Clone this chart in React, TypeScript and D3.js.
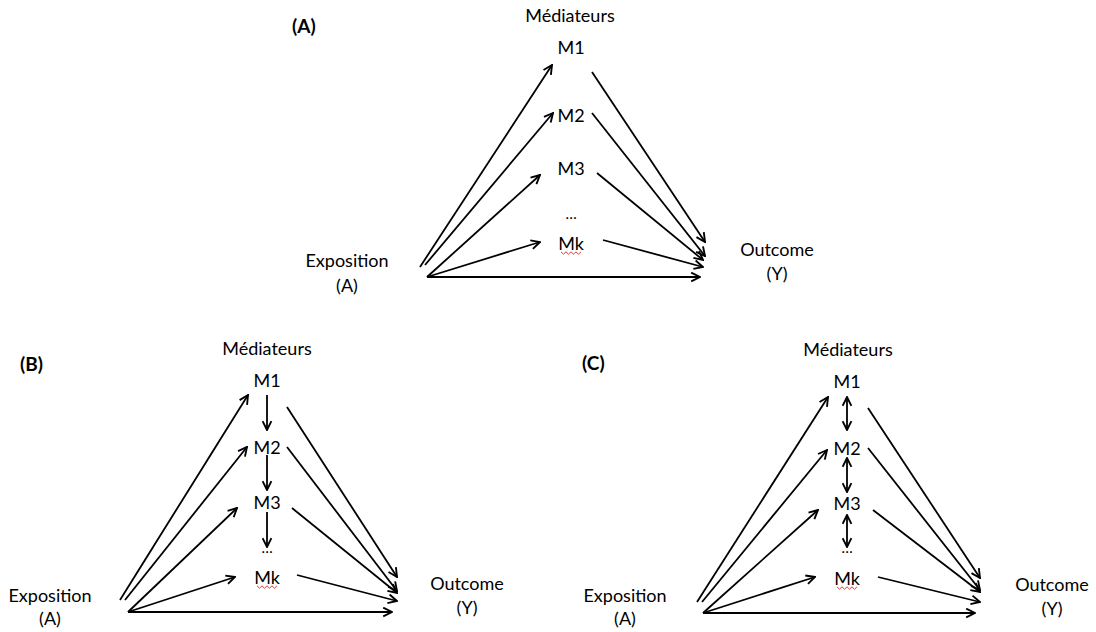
import React, { useEffect, useRef } from "react";
import * as d3 from "d3";

// labels
const mediators = ["M1", "M2", "M3", "…", "Mk"];
const panelNames = ["(A)", "(B)", "(C)"];
const titleText = "Médiateurs";
const exposureText = ["Exposition", "(A)"];
const outcomeText = ["Outcome", "(Y)"];
// kind of link between consecutive mediators, per panel
const chainKinds = ["none", "single", "double"];

// layout of each panel
const layouts = [
  {
    label: [292, 25],
    title: [570, 15],
    medX: 571,
    medY: [47, 115, 168, 215, 243],
    expo: [347, 260, 285],
    outc: [777, 249, 273],
    inEdges: [
      [420, 267, 552, 65],
      [425, 265, 553, 113],
      [427, 277, 540, 175],
      [427, 277, 540, 242],
    ],
    direct: [427, 277, 700, 277],
    outEdges: [
      [592, 72, 705, 242],
      [592, 113, 705, 256],
      [597, 173, 703, 260],
      [603, 240, 703, 267],
    ],
    chain: [],
  },
  {
    label: [20, 363],
    title: [267, 348],
    medX: 267,
    medY: [380, 447, 502, 549, 577],
    expo: [50, 595, 618],
    outc: [467, 583, 607],
    inEdges: [
      [120, 600, 248, 395],
      [125, 600, 247, 447],
      [128, 612, 237, 508],
      [128, 612, 235, 577],
    ],
    direct: [128, 612, 392, 612],
    outEdges: [
      [287, 407, 397, 577],
      [287, 447, 397, 591],
      [292, 508, 397, 593],
      [297, 575, 397, 601],
    ],
    chain: [
      [395, 430],
      [455, 490],
      [512, 547],
    ],
  },
  {
    label: [582, 362],
    title: [848, 349],
    medX: 847,
    medY: [381, 448, 503, 549, 578],
    expo: [625, 595, 618],
    outc: [1052, 584, 608],
    inEdges: [
      [697, 602, 828, 397],
      [702, 602, 827, 450],
      [703, 613, 818, 510],
      [703, 613, 815, 577],
    ],
    direct: [703, 613, 975, 613],
    outEdges: [
      [868, 408, 980, 578],
      [868, 448, 980, 590],
      [873, 510, 980, 592],
      [878, 577, 980, 602],
    ],
    chain: [
      [397, 430],
      [458, 492],
      [515, 547],
    ],
  },
];

const FONT = "Lato, 'Open Sans', sans-serif";
const STROKE = 1.8;

const App = () => {
  const svgRef = useRef<SVGSVGElement>(null);

  useEffect(() => {
    const width = 1096;
    const height = 632;
    const svg = d3.select(svgRef.current).attr("width", width).attr("height", height);
    svg.selectAll("*").remove();

    // open arrowhead marker
    const defs = svg.append("defs");
    ["end", "start"].forEach((kind) => {
      defs
        .append("marker")
        .attr("id", `arrow-${kind}`)
        .attr("viewBox", "0 0 10 10")
        .attr("refX", 9)
        .attr("refY", 5)
        .attr("markerWidth", 11)
        .attr("markerHeight", 11)
        .attr("markerUnits", "userSpaceOnUse")
        .attr("orient", kind === "end" ? "auto" : "auto-start-reverse")
        .append("path")
        .attr("d", "M1,1 L9,5 L1,9")
        .attr("fill", "none")
        .attr("stroke", "#000")
        .attr("stroke-width", 1.7)
        .attr("stroke-linejoin", "miter");
    });

    const line = d3.line();

    layouts.forEach((lay, pi) => {
      const g = svg.append("g");

      // panel tag
      g.append("text")
        .attr("x", lay.label[0])
        .attr("y", lay.label[1])
        .attr("dominant-baseline", "central")
        .attr("font-family", FONT)
        .attr("font-weight", "bold")
        .attr("font-size", 19)
        .text(panelNames[pi]);

      const txt = (x, y, s, size = 18) =>
        g
          .append("text")
          .attr("x", x)
          .attr("y", y)
          .attr("text-anchor", "middle")
          .attr("dominant-baseline", "central")
          .attr("font-family", FONT)
          .attr("font-size", size)
          .attr("fill", "#000")
          .text(s);

      txt(lay.title[0], lay.title[1], titleText);
      mediators.forEach((m, i) => {
        txt(lay.medX, lay.medY[i] + (m === "…" ? -2 : 0), m, m === "…" ? 15 : 18);
      });
      txt(lay.expo[0], lay.expo[1], exposureText[0]);
      txt(lay.expo[0], lay.expo[2], exposureText[1]);
      txt(lay.outc[0], lay.outc[1], outcomeText[0]);
      txt(lay.outc[0], lay.outc[2], outcomeText[1]);

      // spell-check squiggle under Mk
      const mkY = lay.medY[4] + 10;
      const squiggle = d3.range(0, 9).map((k) => [lay.medX - 10 + k * 2.5, mkY + (k % 2 ? 1.2 : -1.2)] as [number, number]);
      g.append("path")
        .attr("d", line(squiggle))
        .attr("fill", "none")
        .attr("stroke", "#e03c3c")
        .attr("stroke-width", 1);

      const edges = [...lay.inEdges, lay.direct, ...lay.outEdges];
      g.selectAll("path.edge")
        .data(edges)
        .join("path")
        .attr("class", "edge")
        .attr("d", (e) => line([[e[0], e[1]], [e[2], e[3]]]))
        .attr("fill", "none")
        .attr("stroke", "#000")
        .attr("stroke-width", STROKE)
        .attr("marker-end", "url(#arrow-end)");

      const kind = chainKinds[pi];
      g.selectAll("path.chain")
        .data(lay.chain)
        .join("path")
        .attr("class", "chain")
        .attr("d", (c) => line([[lay.medX, c[0]], [lay.medX, c[1]]]))
        .attr("fill", "none")
        .attr("stroke", "#000")
        .attr("stroke-width", STROKE)
        .attr("marker-end", "url(#arrow-end)")
        .attr("marker-start", kind === "double" ? "url(#arrow-start)" : null);
    });

    return () => {
      svg.selectAll("*").remove();
    };
  }, []);

  return (
    <div style={{ position: "absolute", left: 0, top: 0, width: 1096, height: 632, background: "#fff" }}>
      <svg ref={svgRef} style={{ display: "block" }}></svg>
    </div>
  );
};

export default App;
